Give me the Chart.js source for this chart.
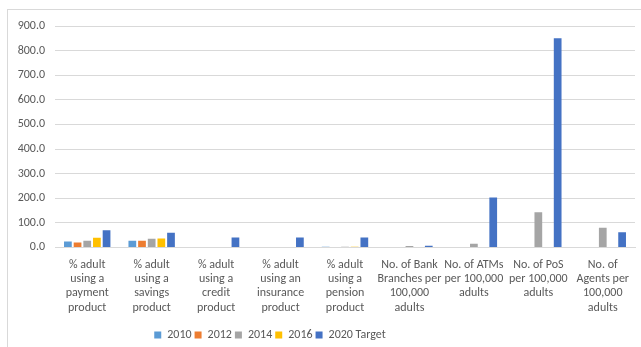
<!DOCTYPE html>
<html><head><meta charset="utf-8">
<script src="https://cdn.jsdelivr.net/npm/chart.js@4.4.0/dist/chart.umd.min.js"></script>
<style>
html,body{margin:0;padding:0;background:#fff;}
#wrap{position:absolute;left:0;top:0;width:641px;height:347px;}
#frame{position:absolute;left:7px;top:9px;width:640px;height:345px;border:1px solid #D9D9D9;box-sizing:border-box;}
</style></head>
<body>
<div id="wrap"><div id="frame"></div><canvas id="c" width="641" height="347"></canvas></div>
<script>
const categories = [
  ["% adult","using a","payment","product"],
  ["% adult","using a","savings","product"],
  ["% adult","using a","credit","product"],
  ["% adult","using an","insurance","product"],
  ["% adult","using a","pension","product"],
  ["No. of Bank","Branches per","100,000","adults"],
  ["No. of ATMs","per 100,000","adults"],
  ["No. of PoS","per 100,000","adults"],
  ["No. of","Agents per","100,000","adults"]
];
const seriesNames = ["2010","2012","2014","2016","2020 Target"];
const v2010 = [24, 27, null, null, 3, null, null, null, null];
const v2012 = [20, 27, null, null, null, null, null, null, null];
const v2014 = [27, 35, null, null, 3, 6, 15, 143, 80];
const v2016 = [39, 36, null, null, 3, null, null, null, null];
const v2020 = [70, 60, 40, 40, 40, 7, 203, 850, 62];
const yTicks = [0,100,200,300,400,500,600,700,800,900];

const colors = ["#5B9BD5","#ED7D31","#A5A5A5","#FFC000","#4472C4"];
const FONT = "'Carlito','Liberation Sans Narrow','Liberation Sans',sans-serif";
const vals = [v2010,v2012,v2014,v2016,v2020];

const legendShift = {
  id:'legendShift',
  afterLayout(chart){
    const lg = chart.legend;
    const off = 270 - (lg.left + lg.right)/2;
    lg.left += off; lg.right += off;
    lg.top += 9; lg.bottom += 9;
  }
};

new Chart(document.getElementById('c'), {
  type:'bar',
  data:{
    labels: categories,
    datasets: seriesNames.map((n,i)=>({
      label:n, data:vals[i], backgroundColor:colors[i],
      barPercentage:0.8, categoryPercentage:0.75
    }))
  },
  options:{
    responsive:false, animation:false,
    layout:{padding:{left:8,right:6,top:26,bottom:5}},
    plugins:{
      tooltip:{enabled:false},
      legend:{
        position:'bottom',
        labels:{boxWidth:7,boxHeight:7,color:'#595959',font:{family:FONT,size:12},padding:3}
      }
    },
    scales:{
      x:{
        grid:{display:false},
        border:{color:'#D9D9D9'},
        ticks:{color:'#595959',font:{family:FONT,size:12,lineHeight:1.2},maxRotation:0,autoSkip:false,padding:2}
      },
      y:{
        min:0,max:900,
        afterFit(s){s.width=47;},
        afterBuildTicks(s){s.ticks = yTicks.map(v=>({value:v}));},
        grid:{color:'#D9D9D9',drawTicks:false},
        border:{display:false},
        ticks:{color:'#595959',font:{family:FONT,size:12},padding:10,callback:v=>v.toFixed(1)}
      }
    }
  },
  plugins:[legendShift]
});
</script>
</body></html>
